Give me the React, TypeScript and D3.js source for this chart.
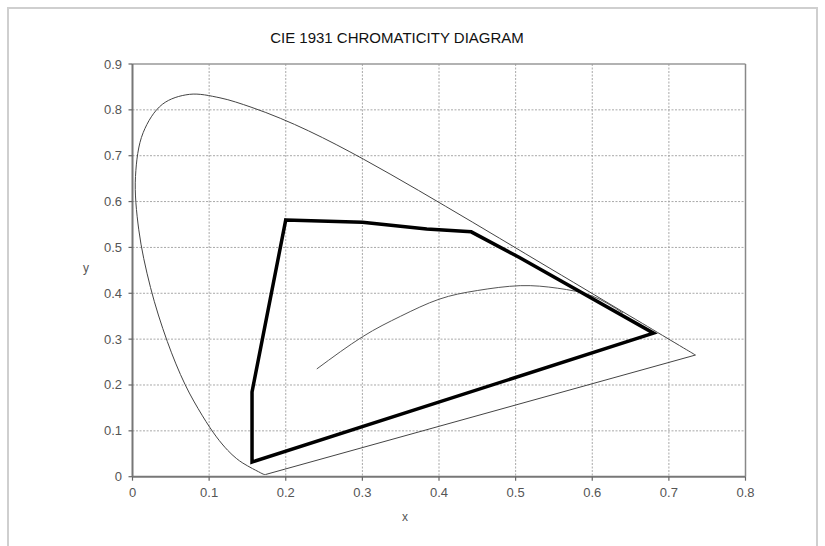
import React from "react";
import * as d3 from "d3";

const title = "CIE 1931 CHROMATICITY DIAGRAM";
const xTicks = [0, 0.1, 0.2, 0.3, 0.4, 0.5, 0.6, 0.7, 0.8];
const yTicks = [0, 0.1, 0.2, 0.3, 0.4, 0.5, 0.6, 0.7, 0.8, 0.9];

// CIE 1931 spectral locus (380–700 nm)
const locusX = [0.1741, 0.1733, 0.1726, 0.1714, 0.1689, 0.1644, 0.1566, 0.144, 0.1355, 0.1241, 0.1096, 0.0913, 0.0687, 0.0454, 0.0235, 0.0082, 0.0039, 0.0139, 0.0389, 0.0743, 0.1142, 0.1547, 0.1929, 0.2296, 0.2658, 0.3016, 0.3373, 0.3731, 0.4087, 0.4441, 0.4788, 0.5125, 0.5448, 0.5752, 0.6029, 0.627, 0.6482, 0.6658, 0.6915, 0.7079, 0.719, 0.726, 0.73, 0.7334, 0.7347];
const locusY = [0.005, 0.0048, 0.0048, 0.0051, 0.0069, 0.0109, 0.0177, 0.0297, 0.0399, 0.0578, 0.0868, 0.1327, 0.2007, 0.295, 0.4127, 0.5384, 0.6548, 0.7502, 0.812, 0.8338, 0.8262, 0.8059, 0.7816, 0.7543, 0.7243, 0.6923, 0.6589, 0.6245, 0.5896, 0.5547, 0.5202, 0.4866, 0.4544, 0.4242, 0.3965, 0.3725, 0.3514, 0.334, 0.3083, 0.292, 0.2809, 0.274, 0.27, 0.2666, 0.2653];

// Planckian-like locus
const planckX = [0.2405, 0.3, 0.35, 0.4, 0.45, 0.506, 0.555, 0.6, 0.64];
const planckY = [0.235, 0.305, 0.35, 0.387, 0.406, 0.4166, 0.411, 0.394, 0.357];

// Gamut polygon
const gamutX = [0.2, 0.3, 0.384, 0.442, 0.505, 0.68, 0.156, 0.156];
const gamutY = [0.56, 0.555, 0.54, 0.534, 0.478, 0.313, 0.032, 0.185];

export default function App() {
  const W = 825, H = 546;
  const x = d3.scaleLinear().domain([0, 0.8]).range([132.5, 745.5]);
  const y = d3.scaleLinear().domain([0, 0.9]).range([476.7, 64]);
  const fmt = (v: number) => (v === 0 ? "0" : d3.format(".1f")(v));

  const locus = locusX.map((v, i) => [v, locusY[i]] as [number, number]);
  const planck = planckX.map((v, i) => [v, planckY[i]] as [number, number]);
  const gamut = gamutX.map((v, i) => [v, gamutY[i]] as [number, number]);

  const curveLine = d3.line<[number, number]>().x(d => x(d[0])).y(d => y(d[1])).curve(d3.curveCatmullRom);
  const smoothLine = d3.line<[number, number]>().x(d => x(d[0])).y(d => y(d[1])).curve(d3.curveNatural);
  const straight = d3.line<[number, number]>().x(d => x(d[0])).y(d => y(d[1]));
  const closedLine = d3.line<[number, number]>().x(d => x(d[0])).y(d => y(d[1])).curve(d3.curveLinearClosed);

  const [x0, x1] = x.range();
  const [y0, y1] = y.range();
  const font = "'Liberation Sans', Arial, sans-serif";

  return (
    <svg width={W} height={H} style={{ position: "absolute", left: 0, top: 0, background: "#fff" }}>
      <rect x={8} y={8} width={809} height={560} fill="#fff" stroke="#cfcfcf" strokeWidth={2} />
      <text x={397} y={43} textAnchor="middle" fontFamily={font} fontSize={15} fill="#111">{title}</text>
      {/* grid */}
      {xTicks.slice(1, -1).map(t => (
        <line key={"gx" + t} x1={x(t)} x2={x(t)} y1={y1} y2={y0} stroke="#a8a8a8" strokeDasharray="2,1.5" strokeWidth={1} />
      ))}
      {yTicks.slice(1, -1).map(t => (
        <line key={"gy" + t} x1={x0} x2={x1} y1={y(t)} y2={y(t)} stroke="#a8a8a8" strokeDasharray="2,1.5" strokeWidth={1} />
      ))}
      {/* frame */}
      <line x1={x0} x2={x1} y1={y1} y2={y1} stroke="#999" strokeWidth={1.5} />
      <line x1={x1} x2={x1} y1={y1} y2={y0} stroke="#888" strokeWidth={1.5} />
      <line x1={x0} x2={x0} y1={y1} y2={y0} stroke="#777" strokeWidth={2} />
      <line x1={x0} x2={x1} y1={y0} y2={y0} stroke="#777" strokeWidth={2} />
      {/* ticks */}
      {xTicks.map(t => (
        <g key={"tx" + t}>
          <line x1={x(t)} x2={x(t)} y1={y0} y2={y0 + 4} stroke="#666" strokeWidth={1.2} />
          <text x={x(t)} y={497} textAnchor="middle" fontFamily={font} fontSize={13} fill="#555">{fmt(t)}</text>
        </g>
      ))}
      {yTicks.map(t => (
        <g key={"ty" + t}>
          <line x1={x0 - 4} x2={x0} y1={y(t)} y2={y(t)} stroke="#666" strokeWidth={1.2} />
          <text x={122} y={y(t) + 4.5} textAnchor="end" fontFamily={font} fontSize={13} fill="#555">{fmt(t)}</text>
        </g>
      ))}
      <text x={405} y={521} textAnchor="middle" fontFamily={font} fontSize={12} fill="#555">x</text>
      <text x={86} y={272} textAnchor="middle" fontFamily={font} fontSize={12} fill="#555">y</text>
      {/* spectral locus */}
      <path d={curveLine(locus) || ""} fill="none" stroke="#444" strokeWidth={1} />
      <path d={straight([locus[0], locus[locus.length - 1]]) || ""} fill="none" stroke="#444" strokeWidth={1} />
      {/* planckian */}
      <path d={smoothLine(planck) || ""} fill="none" stroke="#555" strokeWidth={1} />
      {/* gamut */}
      <path d={closedLine(gamut) || ""} fill="none" stroke="#000" strokeWidth={3.5} strokeLinejoin="miter" />
    </svg>
  );
}
